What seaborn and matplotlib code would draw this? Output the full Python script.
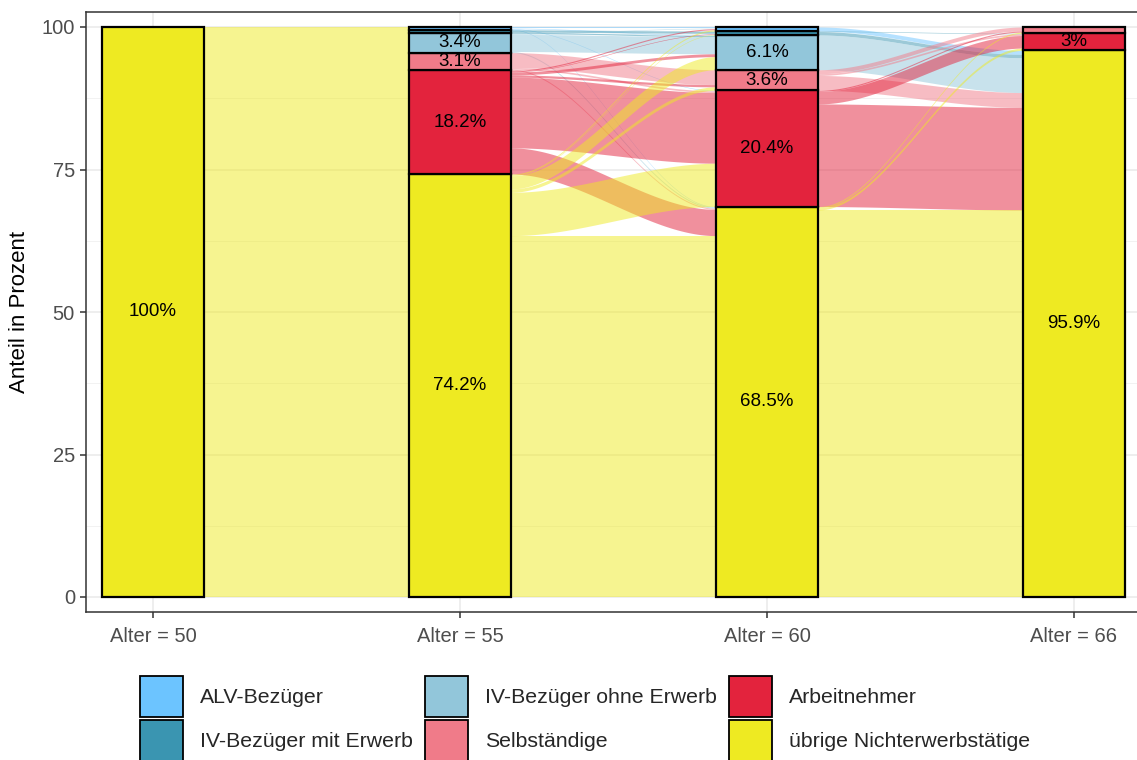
import numpy as np
import pandas as pd
import matplotlib
matplotlib.use("Agg")
import matplotlib.pyplot as plt
from matplotlib.patches import Patch
import seaborn as sns

# Achsen (Alter) und Kategorien
ages = ["Alter = 50", "Alter = 55", "Alter = 60", "Alter = 66"]
categories = ["ALV-Bezüger", "IV-Bezüger mit Erwerb", "IV-Bezüger ohne Erwerb",
              "Selbständige", "Arbeitnehmer", "übrige Nichterwerbstätige"]
colors = ["#6CC4FF", "#3A95B1", "#92C6DA", "#F07B89", "#E3233D", "#EEEA22"]

# Anteile je Alter (Prozent), Reihenfolge wie categories
share_50 = [0, 0, 0, 0, 0, 100]
share_55 = [0.5, 0.6, 3.4, 3.1, 18.2, 74.2]
share_60 = [0.7, 0.7, 6.1, 3.6, 20.4, 68.5]
share_66 = [0, 0, 0, 1.1, 3.0, 95.9]

# Übergänge (Zeile = Herkunft, Spalte = Ziel), Prozent
flow_50_55 = [[0, 0, 0, 0, 0, 0],
              [0, 0, 0, 0, 0, 0],
              [0, 0, 0, 0, 0, 0],
              [0, 0, 0, 0, 0, 0],
              [0, 0, 0, 0, 0, 0],
              [0.5, 0.6, 3.4, 3.1, 18.2, 74.2]]
flow_55_60 = [[0.2, 0.0, 0.1, 0.0, 0.1, 0.1],
              [0.0, 0.4, 0.2, 0.0, 0.0, 0.0],
              [0.1, 0.1, 3.0, 0.0, 0.0, 0.2],
              [0.0, 0.0, 0.0, 2.6, 0.3, 0.2],
              [0.2, 0.1, 0.5, 0.4, 12.4, 4.6],
              [0.2, 0.1, 2.3, 0.6, 7.6, 63.4]]
flow_60_66 = [[0, 0, 0, 0.0, 0.0, 0.7],
              [0, 0, 0, 0.0, 0.1, 0.6],
              [0, 0, 0, 0.0, 0.0, 6.1],
              [0, 0, 0, 0.7, 0.3, 2.6],
              [0, 0, 0, 0.2, 2.2, 18.0],
              [0, 0, 0, 0.2, 0.4, 67.9]]

shares = [share_50, share_55, share_60, share_66]
flows = [flow_50_55, flow_55_60, flow_60_66]
positions = [1, 2, 3, 4]
bar_w = 1 / 3

sns.set_theme(style="white")
plt.rcParams["font.family"] = ["Liberation Sans", "DejaVu Sans"]

fig = plt.figure(figsize=(11.37, 7.60), dpi=100)
ax = fig.add_axes([86 / 1137, 1 - 612 / 760, (1140 - 86) / 1137, 600 / 760])

# Grid wie theme_bw
ax.set_axisbelow(True)
for y in [12.5, 37.5, 62.5, 87.5]:
    ax.axhline(y, color="#F2F2F2", lw=0.7, zorder=0)
for y in [0, 25, 50, 75, 100]:
    ax.axhline(y, color="#EBEBEB", lw=1.2, zorder=0)
for x in positions:
    ax.axvline(x, color="#EBEBEB", lw=1.2, zorder=0)


def tops(share):
    s = np.array(share, dtype=float)
    return 100 - np.concatenate([[0], np.cumsum(s)[:-1]])


# Flüsse zwischen benachbarten Achsen, Farbe nach Herkunft
t = np.linspace(0, 1, 80)
smooth = t * t * (3 - 2 * t)
for k, mat in enumerate(flows):
    m = np.array(mat, dtype=float)
    src_top = tops(shares[k]).copy()
    dst_top = tops(shares[k + 1]).copy()
    x0 = positions[k] + bar_w / 2
    x1 = positions[k + 1] - bar_w / 2
    xs = x0 + (x1 - x0) * t
    # Ziel-Stapel: innerhalb Ziel nach Herkunft geordnet
    dst_pos = {}
    for j in range(6):
        for i in range(6):
            v = m[i, j]
            if v > 0:
                dst_pos[(i, j)] = (dst_top[j], dst_top[j] - v)
                dst_top[j] -= v
    for i in range(6):
        for j in range(6):
            v = m[i, j]
            if v <= 0:
                continue
            s_hi, s_lo = src_top[i], src_top[i] - v
            src_top[i] -= v
            d_hi, d_lo = dst_pos[(i, j)]
            upper = s_hi + (d_hi - s_hi) * smooth
            lower = s_lo + (d_lo - s_lo) * smooth
            ax.fill_between(xs, lower, upper, color=colors[i], alpha=0.5,
                            lw=0, zorder=1)

# Strata als gestapelte Balken
rows = []
for p, sh in zip(positions, shares):
    for c, v in zip(categories, sh):
        if v > 0:
            rows.append({"pos": p, "Kategorie": c, "Anteil": v})
df = pd.DataFrame(rows)
sns.histplot(data=df, x="pos", weights="Anteil", hue="Kategorie",
             hue_order=categories, multiple="stack", discrete=True,
             shrink=bar_w, palette=dict(zip(categories, colors)), alpha=1,
             edgecolor="black", linewidth=1.6, legend=False, ax=ax)
for p in ax.patches:
    p.set_zorder(2)
    if p.get_height() <= 0:
        p.set_visible(False)

# Beschriftung der Strata
for p, sh in zip(positions, shares):
    top = tops(sh)
    for v, tp in zip(sh, top):
        if v >= 3:
            ax.text(p, tp - v / 2, f"{v:g}%", ha="center", va="center",
                    fontsize=13.5, color="black", zorder=3)

ax.set_xlim(1 - 67 / 307, 4 + 66 / 307)
ax.set_ylim(-15 / 5.7, 100 + 15 / 5.7)
ax.set_xticks(positions)
ax.set_xticklabels(ages)
ax.set_yticks([0, 25, 50, 75, 100])
ax.tick_params(axis="both", colors="#333333", labelcolor="#4D4D4D",
               labelsize=14.5, length=4.5, width=1.1, direction="out")
ax.tick_params(axis="x", pad=6)
ax.tick_params(axis="both", which="both", bottom=True, left=True)
ax.set_xlabel("")
ax.set_ylabel("Anteil in Prozent", fontsize=16, color="black", labelpad=8)
for s in ax.spines.values():
    s.set_color("#333333")
    s.set_linewidth(1.1)
    s.set_visible(True)

handles = [Patch(facecolor=c, edgecolor="black", linewidth=1.3, label=l)
           for c, l in zip(colors, categories)]
fig.legend(handles=handles, ncol=3, loc="upper left",
           bbox_to_anchor=(140 / 1137, 1 - 676 / 760), frameon=False,
           fontsize=15.3, handlelength=2.0, handleheight=2.6,
           handletextpad=0.8, columnspacing=0.6, labelspacing=0.15,
           borderpad=0, borderaxespad=0)

fig.savefig("out.png", dpi=100)
